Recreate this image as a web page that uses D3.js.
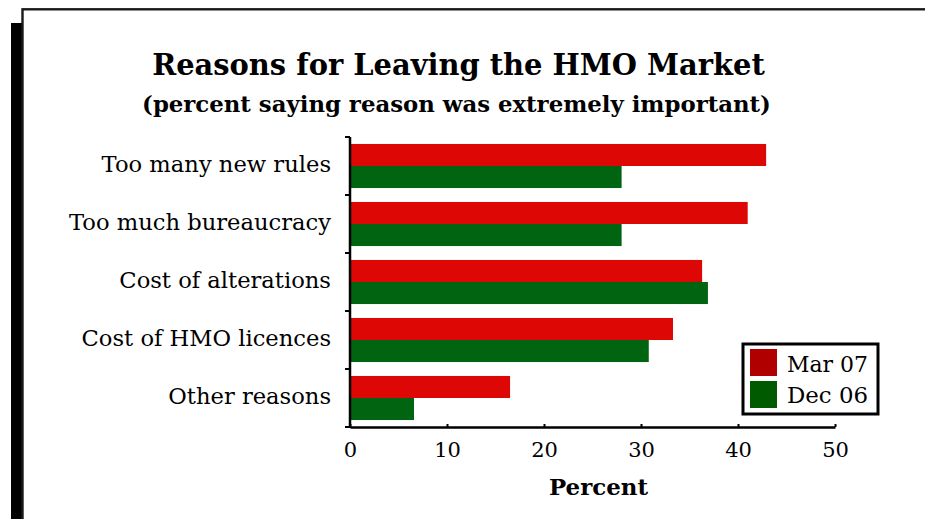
<!DOCTYPE html>
<html>
<head>
<meta charset="utf-8">
<script src="https://cdn.jsdelivr.net/npm/d3@7"></script>
<style>
  html, body { margin: 0; padding: 0; background: #fff; }
  svg { display: block; }
  text { font-family: "DejaVu Serif", "Liberation Serif", serif; fill: #000; }
</style>
</head>
<body>
<div id="chart-area"></div>
<script>
const categories = ["Too many new rules", "Too much bureaucracy", "Cost of alterations", "Cost of HMO licences", "Other reasons"];
const seriesNames = ["Mar 07", "Dec 06"];
const mar07 = [42.9, 41.0, 36.3, 33.3, 16.5];
const dec06 = [28.0, 28.0, 36.9, 30.8, 6.6];
const xTicks = [0, 10, 20, 30, 40, 50];

const barColors = ["#dd0806", "#006411"];
const legendColors = ["#b00000", "#005a00"];

const w = 925;
const h = 519;

// fit a text's font size so it takes up the width it has in the picture
const fitWidth = (sel, target) => {
    const node = sel.node();
    const size = parseFloat(sel.attr("font-size"));
    const len = node.getComputedTextLength();
    if (len > 0) sel.attr("font-size", (size * target / len).toFixed(2));
    return sel;
}

const renderData = () => {
    const svg = d3.select("#chart-area")
        .append("svg")
        .attr("width", w)
        .attr("height", h);

    // drop shadow and frame
    svg.append("rect")
        .attr("x", 11).attr("y", 23)
        .attr("width", 12).attr("height", h)
        .attr("fill", "#000");
    svg.append("rect")
        .attr("x", 22.5).attr("y", 9.3)
        .attr("width", w + 20).attr("height", h + 20)
        .attr("fill", "#fff")
        .attr("stroke", "#1a1a1a")
        .attr("stroke-width", 2.4);

    const xScale = d3.scaleLinear()
        .domain([0, 50])
        .range([350, 835]);

    const yScale = d3.scaleBand()
        .domain(categories)
        .range([137, 427])
        .paddingInner(0.24)
        .paddingOuter(0.12);

    const subScale = d3.scaleBand()
        .domain(seriesNames)
        .range([0, yScale.bandwidth()]);

    const rows = categories.map((c, i) => ({ cat: c, values: [mar07[i], dec06[i]] }));

    const groups = svg.selectAll("g.row")
        .data(rows)
        .enter()
        .append("g")
        .attr("class", "row")
        .attr("transform", d => "translate(0," + yScale(d.cat) + ")");

    groups.selectAll("rect")
        .data(d => d.values.map((v, j) => ({ name: seriesNames[j], value: v, j: j })))
        .enter()
        .append("rect")
        .attr("x", xScale(0))
        .attr("y", d => subScale(d.name))
        .attr("width", d => xScale(d.value) - xScale(0))
        .attr("height", subScale.bandwidth())
        .attr("fill", d => barColors[d.j]);

    // y axis: line with ticks at band edges
    const step = yScale.step();
    const edges = categories.map(c => yScale(c) - step * 0.12).concat([427]);
    svg.append("line")
        .attr("x1", 350).attr("x2", 350)
        .attr("y1", 137).attr("y2", 428)
        .attr("stroke", "#000").attr("stroke-width", 2.5);
    svg.selectAll("line.ytick")
        .data(edges)
        .enter()
        .append("line")
        .attr("class", "ytick")
        .attr("x1", 345).attr("x2", 350)
        .attr("y1", d => d).attr("y2", d => d)
        .attr("stroke", "#000").attr("stroke-width", 2);

    // category labels
    const labels = svg.selectAll("text.cat")
        .data(categories)
        .enter()
        .append("text")
        .attr("class", "cat")
        .attr("x", 331)
        .attr("y", d => yScale(d) + yScale.bandwidth() / 2 + 6)
        .attr("text-anchor", "end")
        .attr("font-size", 21)
        .text(d => d);
    const widest = labels.filter(d => d === "Too much bureaucracy");
    fitWidth(widest, 262);
    labels.attr("font-size", widest.attr("font-size"));

    // x axis
    const xAxis = d3.axisBottom(xScale)
        .tickValues(xTicks)
        .tickSizeInner(-3)
        .tickSizeOuter(0)
        .tickPadding(15);

    const gx = svg.append("g")
        .attr("transform", "translate(0,427)")
        .attr("id", "x-axis")
        .call(xAxis);
    gx.select(".domain").attr("stroke", "#000").attr("stroke-width", 2.5);
    gx.selectAll(".tick line").attr("stroke", "#000").attr("stroke-width", 2);
    gx.selectAll(".tick text")
        .attr("font-size", 21)
        .attr("font-family", "DejaVu Serif, serif")
        .attr("dy", "0.71em");

    // titles
    const title = svg.append("text")
        .attr("x", 458.5).attr("y", 75)
        .attr("text-anchor", "middle")
        .attr("font-weight", "bold")
        .attr("font-size", 30)
        .text("Reasons for Leaving the HMO Market");
    fitWidth(title, 613);

    const subtitle = svg.append("text")
        .attr("x", 456.5).attr("y", 112)
        .attr("text-anchor", "middle")
        .attr("font-weight", "bold")
        .attr("font-size", 22)
        .text("(percent saying reason was extremely important)");
    fitWidth(subtitle, 629);

    const xTitle = svg.append("text")
        .attr("x", 598.5).attr("y", 495)
        .attr("text-anchor", "middle")
        .attr("font-weight", "bold")
        .attr("font-size", 24)
        .text("Percent");
    fitWidth(xTitle, 99);

    // legend
    const legend = svg.append("g").attr("transform", "translate(743,344)");
    legend.append("rect")
        .attr("x", 0).attr("y", 0)
        .attr("width", 135).attr("height", 70)
        .attr("fill", "#fff")
        .attr("stroke", "#000")
        .attr("stroke-width", 3);
    seriesNames.forEach((name, i) => {
        legend.append("rect")
            .attr("x", 7).attr("y", 5 + i * 32)
            .attr("width", 27).attr("height", 27)
            .attr("fill", legendColors[i]);
        const t = legend.append("text")
            .attr("x", 44).attr("y", 28 + i * 31)
            .attr("font-size", 22)
            .text(name);
        fitWidth(t, 81);
    });
}

renderData();
</script>
</body>
</html>
